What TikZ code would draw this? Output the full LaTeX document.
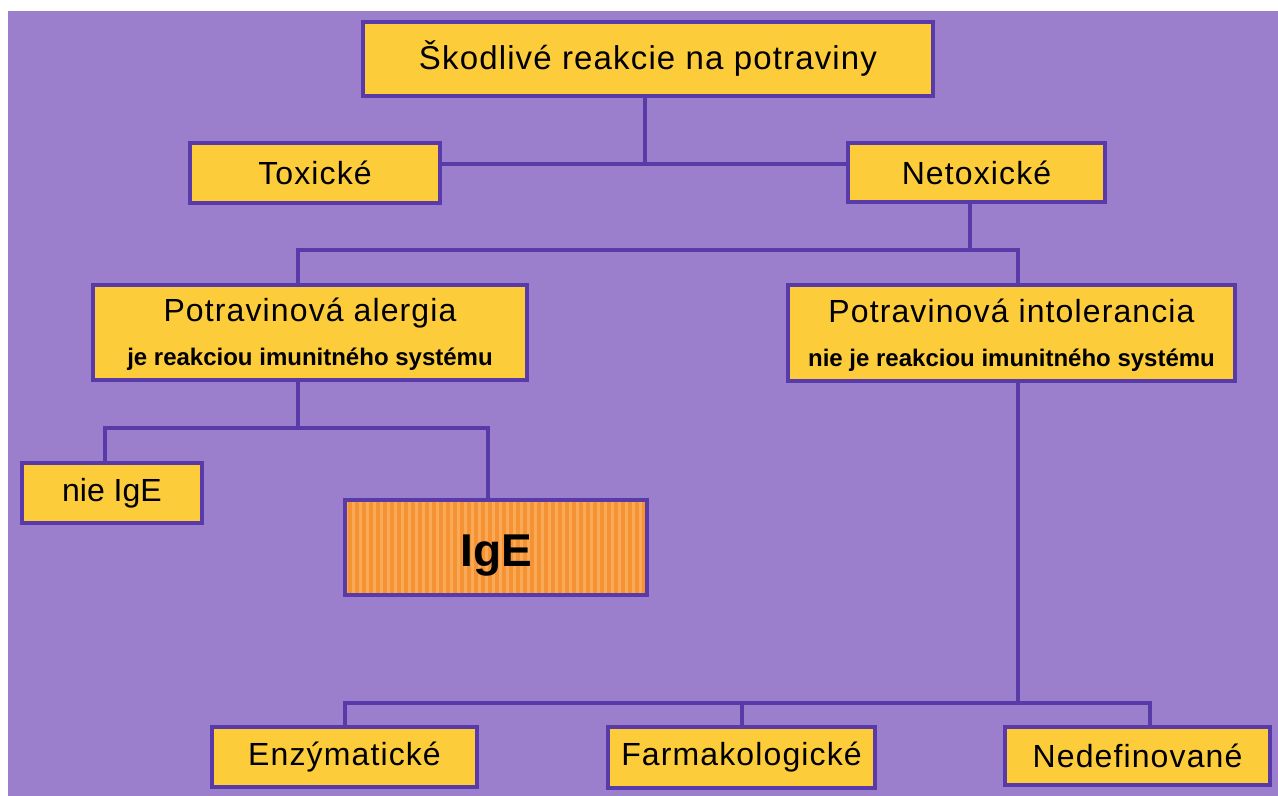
\documentclass[tikz,border=0pt]{standalone}
\usepackage{fontspec}
\setmainfont{Liberation Sans}
\newfontfamily\tracked{Liberation Sans}[LetterSpace=3.5]
\usetikzlibrary{positioning,calc}
\definecolor{lilac}{RGB}{156,127,204}
\definecolor{ink}{RGB}{88,58,168}
\definecolor{butter}{RGB}{253,204,58}
\definecolor{amber}{RGB}{245,146,52}
\definecolor{amberlight}{RGB}{250,170,86}
\tikzstyle{box} = [draw=ink, line width=2pt, fill=butter, rectangle, inner sep=0pt, align=center, font=\tracked\fontsize{16}{19}\selectfont]
\tikzstyle{plain} = [font=\fontsize{16}{19}\selectfont]
\tikzstyle{hot} = [fill=amber, font=\fontsize{23}{27}\selectfont\bfseries,
  path picture={\foreach \sx in {0,3.5,...,160}
    \fill[amberlight] ([xshift=\sx pt]path picture bounding box.south west) rectangle ++(1.5pt,60pt);}]
\tikzstyle{link} = [draw=ink, line width=1.6pt]
\newcommand{\subline}[1]{{\normalfont\fontsize{12}{14}\selectfont\bfseries #1}}

\begin{document}
\begin{tikzpicture}[x=0.5pt, y=-0.5pt]
    % Sheet
    \fill[white] (0,0) rectangle (1278,796);
    \fill[lilac] (8,11) rectangle (1278,796);

    % Boxes
    \node [box, minimum width=285pt, minimum height=37pt, font=\tracked\fontsize{16.5}{19}\selectfont] (harm) at (648,59) {Škodlivé reakcie na potraviny};
    \node [box, minimum width=125pt, minimum height=30pt] (tox) at (315,173) {Toxické};
    \node [box, minimum width=128.5pt, minimum height=29.5pt] (netox) at (976.5,172.5) {Netoxické};
    \node [box, minimum width=217pt, minimum height=47.5pt] (alg) at (310,332.5)
        {\raisebox{-2pt}[\height][\depth]{Potravinová alergia}\\[5pt]\subline{je reakciou imunitného systému}};
    \node [box, minimum width=223.5pt, minimum height=48pt] (intol) at (1011.5,333)
        {\raisebox{-2pt}[\height][\depth]{Potravinová intolerancia}\\[5pt]\subline{nie je reakciou imunitného systému}};
    \node [box, plain, minimum width=90pt, minimum height=30pt] (noige) at (112,493) {nie IgE};
    \node [box, hot, minimum width=151pt, minimum height=47.5pt] (ige) at (496,547.5) {\raisebox{-4pt}[\height][\depth]{IgE}};
    \node [box, minimum width=132.5pt, minimum height=30pt] (enz) at (344.5,757) {Enzýmatické};
    \node [box, minimum width=133.5pt, minimum height=30.5pt] (farm) at (741.5,757.5) {Farmakologické};
    \node [box, minimum width=132.5pt, minimum height=29pt] (nedef) at (1137.5,756) {Nedefinované};

    % Branch points
    \coordinate (b1) at (645,164);
    \coordinate (b2) at (970,250);
    \coordinate (a2) at (298,250);
    \coordinate (i2) at (1018,250);
    \coordinate (a3) at (298,428);
    \coordinate (n3) at (105,428);
    \coordinate (g3) at (488,428);
    \coordinate (i4) at (1018,703);
    \coordinate (e4) at (345,703);
    \coordinate (f4) at (742,703);
    \coordinate (d4) at (1150,703);

    % Connections
    \draw [link] (harm.south -| b1) -- (b1);
    \draw [link] (tox.east |- b1) -- (netox.west |- b1);
    \draw [link] (netox.south -| b2) -- (b2);
    \draw [link] (alg.north -| a2) -- (a2) -- (i2) -- (intol.north -| i2);
    \draw [link] (alg.south -| a3) -- (a3);
    \draw [link] (noige.north -| n3) -- (n3) -- (g3) -- (ige.north -| g3);
    \draw [link] (intol.south -| i4) -- (i4);
    \draw [link] (enz.north -| e4) -- (e4) -- (d4) -- (nedef.north -| d4);
    \draw [link] (farm.north -| f4) -- (f4);
\end{tikzpicture}
\end{document}
